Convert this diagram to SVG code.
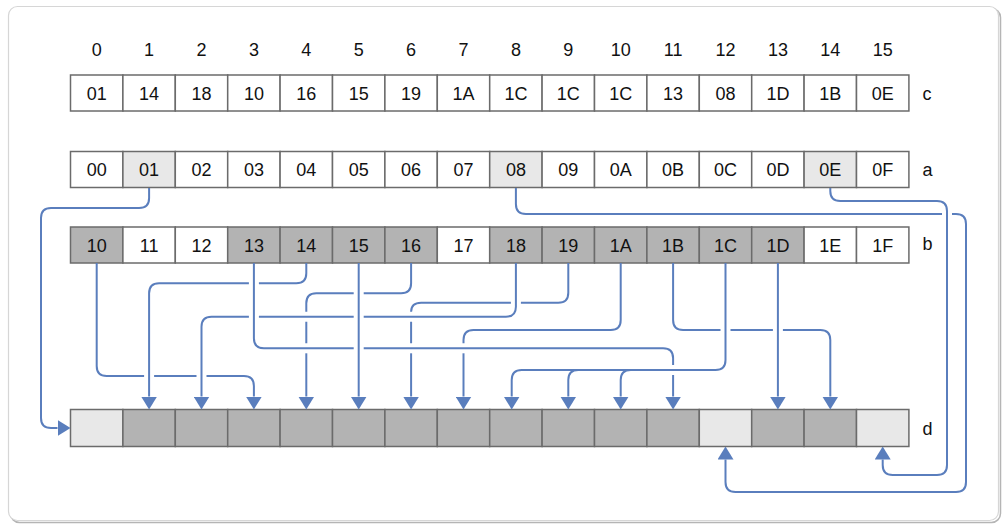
<svg xmlns="http://www.w3.org/2000/svg" width="1005" height="527" viewBox="0 0 1005 527">
<defs>
<style>
.cell{stroke:#6b6b6b;stroke-width:1.5}
.w{fill:#ffffff}.l{fill:#e8e8e8}.g{fill:#b3b3b3}
text{font-family:"Liberation Sans",Arial,sans-serif;font-size:18px;fill:#111}
.t{text-anchor:middle}
.cn path{fill:none;stroke:#5a7ebd;stroke-width:2}
.cn path.a{marker-end:url(#ah)}
</style>
<marker id="ah" viewBox="0 0 13 16" refX="0" refY="8" markerWidth="13" markerHeight="16" markerUnits="userSpaceOnUse" orient="auto">
<path d="M0,0 L13,8 L0,16 z" fill="#5a7ebd"/>
</marker>
</defs>
<rect x="0" y="0" width="1005" height="527" fill="#ffffff"/>
<rect x="10.5" y="8.5" width="990" height="514" rx="9" fill="none" stroke="#b5b5b5" stroke-width="1.5"/>
<rect x="8.5" y="6.5" width="990" height="514" rx="9" fill="#ffffff" stroke="#d6d6d6" stroke-width="1.2"/>

<g id="index">
<text class="t" x="96.7" y="56">0</text><text class="t" x="149.1" y="56">1</text><text class="t" x="201.5" y="56">2</text><text class="t" x="253.9" y="56">3</text><text class="t" x="306.3" y="56">4</text><text class="t" x="358.7" y="56">5</text><text class="t" x="411.1" y="56">6</text><text class="t" x="463.5" y="56">7</text><text class="t" x="515.9" y="56">8</text><text class="t" x="568.3" y="56">9</text><text class="t" x="620.7" y="56">10</text><text class="t" x="673.1" y="56">11</text><text class="t" x="725.5" y="56">12</text><text class="t" x="777.9" y="56">13</text><text class="t" x="830.3" y="56">14</text><text class="t" x="882.7" y="56">15</text>
</g>

<g id="row-c">
<g id="c0"><rect class="cell w" x="70.5" y="75" width="52.4" height="36"/><text class="t" x="96.7" y="100">01</text></g>
<g id="c1"><rect class="cell w" x="122.9" y="75" width="52.4" height="36"/><text class="t" x="149.1" y="100">14</text></g>
<g id="c2"><rect class="cell w" x="175.3" y="75" width="52.4" height="36"/><text class="t" x="201.5" y="100">18</text></g>
<g id="c3"><rect class="cell w" x="227.7" y="75" width="52.4" height="36"/><text class="t" x="253.9" y="100">10</text></g>
<g id="c4"><rect class="cell w" x="280.1" y="75" width="52.4" height="36"/><text class="t" x="306.3" y="100">16</text></g>
<g id="c5"><rect class="cell w" x="332.5" y="75" width="52.4" height="36"/><text class="t" x="358.7" y="100">15</text></g>
<g id="c6"><rect class="cell w" x="384.9" y="75" width="52.4" height="36"/><text class="t" x="411.1" y="100">19</text></g>
<g id="c7"><rect class="cell w" x="437.3" y="75" width="52.4" height="36"/><text class="t" x="463.5" y="100">1A</text></g>
<g id="c8"><rect class="cell w" x="489.7" y="75" width="52.4" height="36"/><text class="t" x="515.9" y="100">1C</text></g>
<g id="c9"><rect class="cell w" x="542.1" y="75" width="52.4" height="36"/><text class="t" x="568.3" y="100">1C</text></g>
<g id="c10"><rect class="cell w" x="594.5" y="75" width="52.4" height="36"/><text class="t" x="620.7" y="100">1C</text></g>
<g id="c11"><rect class="cell w" x="646.9" y="75" width="52.4" height="36"/><text class="t" x="673.1" y="100">13</text></g>
<g id="c12"><rect class="cell w" x="699.3" y="75" width="52.4" height="36"/><text class="t" x="725.5" y="100">08</text></g>
<g id="c13"><rect class="cell w" x="751.7" y="75" width="52.4" height="36"/><text class="t" x="777.9" y="100">1D</text></g>
<g id="c14"><rect class="cell w" x="804.1" y="75" width="52.4" height="36"/><text class="t" x="830.3" y="100">1B</text></g>
<g id="c15"><rect class="cell w" x="856.5" y="75" width="52.4" height="36"/><text class="t" x="882.7" y="100">0E</text></g>
<text id="label-c" x="922.5" y="100">c</text>
</g>

<g id="row-a">
<g id="a0"><rect class="cell w" x="70.5" y="151.5" width="52.4" height="36"/><text class="t" x="96.7" y="176">00</text></g>
<g id="a1"><rect class="cell l" x="122.9" y="151.5" width="52.4" height="36"/><text class="t" x="149.1" y="176">01</text></g>
<g id="a2"><rect class="cell w" x="175.3" y="151.5" width="52.4" height="36"/><text class="t" x="201.5" y="176">02</text></g>
<g id="a3"><rect class="cell w" x="227.7" y="151.5" width="52.4" height="36"/><text class="t" x="253.9" y="176">03</text></g>
<g id="a4"><rect class="cell w" x="280.1" y="151.5" width="52.4" height="36"/><text class="t" x="306.3" y="176">04</text></g>
<g id="a5"><rect class="cell w" x="332.5" y="151.5" width="52.4" height="36"/><text class="t" x="358.7" y="176">05</text></g>
<g id="a6"><rect class="cell w" x="384.9" y="151.5" width="52.4" height="36"/><text class="t" x="411.1" y="176">06</text></g>
<g id="a7"><rect class="cell w" x="437.3" y="151.5" width="52.4" height="36"/><text class="t" x="463.5" y="176">07</text></g>
<g id="a8"><rect class="cell l" x="489.7" y="151.5" width="52.4" height="36"/><text class="t" x="515.9" y="176">08</text></g>
<g id="a9"><rect class="cell w" x="542.1" y="151.5" width="52.4" height="36"/><text class="t" x="568.3" y="176">09</text></g>
<g id="a10"><rect class="cell w" x="594.5" y="151.5" width="52.4" height="36"/><text class="t" x="620.7" y="176">0A</text></g>
<g id="a11"><rect class="cell w" x="646.9" y="151.5" width="52.4" height="36"/><text class="t" x="673.1" y="176">0B</text></g>
<g id="a12"><rect class="cell w" x="699.3" y="151.5" width="52.4" height="36"/><text class="t" x="725.5" y="176">0C</text></g>
<g id="a13"><rect class="cell w" x="751.7" y="151.5" width="52.4" height="36"/><text class="t" x="777.9" y="176">0D</text></g>
<g id="a14"><rect class="cell l" x="804.1" y="151.5" width="52.4" height="36"/><text class="t" x="830.3" y="176">0E</text></g>
<g id="a15"><rect class="cell w" x="856.5" y="151.5" width="52.4" height="36"/><text class="t" x="882.7" y="176">0F</text></g>
<text id="label-a" x="922.5" y="176">a</text>
</g>

<g id="row-b">
<g id="b0"><rect class="cell g" x="70.5" y="227" width="52.4" height="36"/><text class="t" x="96.7" y="251.5">10</text></g>
<g id="b1"><rect class="cell w" x="122.9" y="227" width="52.4" height="36"/><text class="t" x="149.1" y="251.5">11</text></g>
<g id="b2"><rect class="cell w" x="175.3" y="227" width="52.4" height="36"/><text class="t" x="201.5" y="251.5">12</text></g>
<g id="b3"><rect class="cell g" x="227.7" y="227" width="52.4" height="36"/><text class="t" x="253.9" y="251.5">13</text></g>
<g id="b4"><rect class="cell g" x="280.1" y="227" width="52.4" height="36"/><text class="t" x="306.3" y="251.5">14</text></g>
<g id="b5"><rect class="cell g" x="332.5" y="227" width="52.4" height="36"/><text class="t" x="358.7" y="251.5">15</text></g>
<g id="b6"><rect class="cell g" x="384.9" y="227" width="52.4" height="36"/><text class="t" x="411.1" y="251.5">16</text></g>
<g id="b7"><rect class="cell w" x="437.3" y="227" width="52.4" height="36"/><text class="t" x="463.5" y="251.5">17</text></g>
<g id="b8"><rect class="cell g" x="489.7" y="227" width="52.4" height="36"/><text class="t" x="515.9" y="251.5">18</text></g>
<g id="b9"><rect class="cell g" x="542.1" y="227" width="52.4" height="36"/><text class="t" x="568.3" y="251.5">19</text></g>
<g id="b10"><rect class="cell g" x="594.5" y="227" width="52.4" height="36"/><text class="t" x="620.7" y="251.5">1A</text></g>
<g id="b11"><rect class="cell g" x="646.9" y="227" width="52.4" height="36"/><text class="t" x="673.1" y="251.5">1B</text></g>
<g id="b12"><rect class="cell g" x="699.3" y="227" width="52.4" height="36"/><text class="t" x="725.5" y="251.5">1C</text></g>
<g id="b13"><rect class="cell g" x="751.7" y="227" width="52.4" height="36"/><text class="t" x="777.9" y="251.5">1D</text></g>
<g id="b14"><rect class="cell w" x="804.1" y="227" width="52.4" height="36"/><text class="t" x="830.3" y="251.5">1E</text></g>
<g id="b15"><rect class="cell w" x="856.5" y="227" width="52.4" height="36"/><text class="t" x="882.7" y="251.5">1F</text></g>
<text id="label-b" x="922.5" y="249.5">b</text>
</g>

<g id="row-d">
<g id="d0"><rect class="cell l" x="70.5" y="409.5" width="52.4" height="37"/></g>
<g id="d1"><rect class="cell g" x="122.9" y="409.5" width="52.4" height="37"/></g>
<g id="d2"><rect class="cell g" x="175.3" y="409.5" width="52.4" height="37"/></g>
<g id="d3"><rect class="cell g" x="227.7" y="409.5" width="52.4" height="37"/></g>
<g id="d4"><rect class="cell g" x="280.1" y="409.5" width="52.4" height="37"/></g>
<g id="d5"><rect class="cell g" x="332.5" y="409.5" width="52.4" height="37"/></g>
<g id="d6"><rect class="cell g" x="384.9" y="409.5" width="52.4" height="37"/></g>
<g id="d7"><rect class="cell g" x="437.3" y="409.5" width="52.4" height="37"/></g>
<g id="d8"><rect class="cell g" x="489.7" y="409.5" width="52.4" height="37"/></g>
<g id="d9"><rect class="cell g" x="542.1" y="409.5" width="52.4" height="37"/></g>
<g id="d10"><rect class="cell g" x="594.5" y="409.5" width="52.4" height="37"/></g>
<g id="d11"><rect class="cell g" x="646.9" y="409.5" width="52.4" height="37"/></g>
<g id="d12"><rect class="cell l" x="699.3" y="409.5" width="52.4" height="37"/></g>
<g id="d13"><rect class="cell g" x="751.7" y="409.5" width="52.4" height="37"/></g>
<g id="d14"><rect class="cell g" x="804.1" y="409.5" width="52.4" height="37"/></g>
<g id="d15"><rect class="cell l" x="856.5" y="409.5" width="52.4" height="37"/></g>
<text id="label-d" x="922.5" y="435">d</text>
</g>

<g id="connectors" class="cn">
<path class="a" d="M149.1,188 V198 Q149.1,208 139.1,208 H51 Q41,208 41,218 V418 Q41,428 51,428 H57.5"/>
<path d="M515.9,188 V204 Q515.9,214 525.9,214 H942"/>
<path class="a" d="M952,214 H956 Q966,214 966,224 V482 Q966,492 956,492 H735.5 Q725.5,492 725.5,482 V459.5"/>
<path class="a" d="M830.3,188 V191 Q830.3,201 840.3,201 H937 Q947,201 947,211 V465 Q947,475 937,475 H892.7 Q882.7,475 882.7,465 V459.5"/>

<path d="M96.7,263 V366 Q96.7,376 106.7,376 H144.1 M154.1,376 H196.5"/>
<path class="a" d="M206.5,376 H243.9 Q253.9,376 253.9,386 V396.5"/>

<path d="M306.3,263 V273.3 Q306.3,283.3 296.3,283.3 H258.9"/>
<path class="a" d="M248.9,283.3 H159.1 Q149.1,283.3 149.1,293.3 V396.5"/>

<path d="M411.1,263 V283.3 Q411.1,293.3 401.1,293.3 H363.7 M353.7,293.3 H316.3 Q306.3,293.3 306.3,303.3 V311.7 M306.3,321.7 V343.3"/>
<path class="a" d="M306.3,353.3 V396.5"/>

<path class="a" d="M358.7,263 V396.5"/>

<path d="M568.3,263 V292.7 Q568.3,302.7 558.3,302.7 H520.9 M510.9,302.7 H421.1 Q411.1,302.7 411.1,311.7 M411.1,321.7 V343.3"/>
<path class="a" d="M411.1,353.3 V396.5"/>

<path d="M515.9,263 V306.7 Q515.9,316.7 505.9,316.7 H363.7 M353.7,316.7 H258.9"/>
<path class="a" d="M248.9,316.7 H211.5 Q201.5,316.7 201.5,326.7 V396.5"/>

<path d="M620.7,263 V320 Q620.7,330 610.7,330 H473.5 Q463.5,330 463.5,340 V343.3"/>
<path class="a" d="M463.5,353.3 V396.5"/>

<path d="M253.9,263 V338.3 Q253.9,348.3 263.9,348.3 H353.7 M363.7,348.3 H663.1 Q673.1,348.3 673.1,358.3 V365"/>
<path class="a" d="M673.1,375 V396.5"/>

<path class="a" d="M725.5,263 V360 Q725.5,370 715.5,370 H521.7 Q511.7,370 511.7,380 V396.5"/>
<path class="a" d="M578.3,370 Q568.3,370 568.3,380 V396.5"/>
<path class="a" d="M630.7,370 Q620.7,370 620.7,380 V396.5"/>

<path d="M673.1,263 V320 Q673.1,330 683.1,330 H720.5 M730.5,330 H772.9"/>
<path class="a" d="M782.9,330 H820.3 Q830.3,330 830.3,340 V396.5"/>

<path class="a" d="M777.9,263 V396.5"/>
</g>
</svg>
